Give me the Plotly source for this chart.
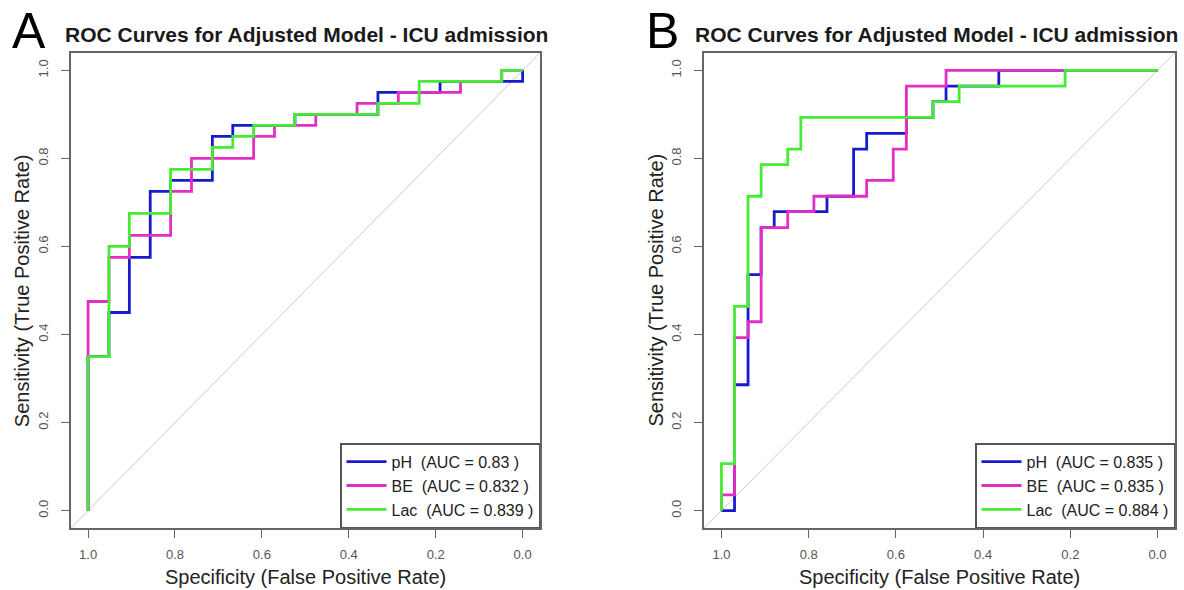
import plotly.graph_objects as go

W, H = 1184, 590
FONT = "Liberation Sans, Arial, sans-serif"

TITLE = "ROC Curves for Adjusted Model - ICU admission"
X_TITLE = "Specificity (False Positive Rate)"
Y_TITLE = "Sensitivity (True Positive Rate)"
PANEL_LABELS = ["A", "B"]

TICK_VALS = [0.0, 0.2, 0.4, 0.6, 0.8, 1.0]
TICK_TEXT = ["0.0", "0.2", "0.4", "0.6", "0.8", "1.0"]

MARKERS = ["pH", "BE", "Lac"]
COLORS = ["#1a1acd", "#e22ec4", "#44ec33"]

# ---- Panel A (specificity, sensitivity) step points ----
A_PH_SPEC = [1.0, 0.952, 0.905, 0.857, 0.810, 0.714, 0.667, 0.524, 0.333, 0.190, 0.0, 0.0]
A_PH_SENS = [0.0, 0.35, 0.45, 0.575, 0.725, 0.75, 0.85, 0.875, 0.9, 0.95, 0.975, 1.0]
A_BE_SPEC = [1.0, 0.952, 0.905, 0.810, 0.762, 0.619, 0.571, 0.476, 0.381, 0.286, 0.143, 0.048, 0.0]
A_BE_SENS = [0.0, 0.475, 0.575, 0.625, 0.725, 0.8, 0.85, 0.875, 0.9, 0.925, 0.95, 0.975, 1.0]
A_LAC_SPEC = [1.0, 0.952, 0.905, 0.810, 0.714, 0.667, 0.619, 0.524, 0.333, 0.238, 0.048, 0.0]
A_LAC_SENS = [0.0, 0.35, 0.6, 0.675, 0.775, 0.825, 0.85, 0.875, 0.9, 0.925, 0.975, 1.0]
A_AUC = ["0.83", "0.832", "0.839"]

# ---- Panel B ----
B_PH_SPEC = [1.0, 0.970, 0.939, 0.909, 0.879, 0.758, 0.697, 0.667, 0.576, 0.515, 0.485, 0.364, 0.0]
B_PH_SENS = [0.0, 0.0, 0.286, 0.536, 0.643, 0.679, 0.714, 0.821, 0.857, 0.893, 0.929, 0.964, 1.0]
B_BE_SPEC = [1.0, 0.970, 0.939, 0.909, 0.848, 0.788, 0.667, 0.606, 0.576, 0.485, 0.0]
B_BE_SENS = [0.0, 0.036, 0.393, 0.429, 0.643, 0.679, 0.714, 0.75, 0.821, 0.964, 1.0]
B_LAC_SPEC = [1.0, 0.970, 0.939, 0.909, 0.848, 0.818, 0.515, 0.455, 0.212, 0.0]
B_LAC_SENS = [0.0, 0.107, 0.464, 0.714, 0.786, 0.821, 0.893, 0.929, 0.964, 1.0]
B_AUC = ["0.835", "0.835", "0.884"]

PAD = 0.04  # R-style axis expansion

# layout in screen pixels
PLOT_TOP, PLOT_BOTTOM = 52.7, 528.3
PANELS_X = [(70.7, 540.0), (704.0, 1175.0)]
TITLE_CX = [306.0, 936.0]
LETTER_CX = [28.5, 662.0]


def px(x):
    return x / W


def py(y):
    return 1 - y / H


fig = go.Figure()

panels = [
    ([A_PH_SPEC, A_BE_SPEC, A_LAC_SPEC], [A_PH_SENS, A_BE_SENS, A_LAC_SENS], A_AUC),
    ([B_PH_SPEC, B_BE_SPEC, B_LAC_SPEC], [B_PH_SENS, B_BE_SENS, B_LAC_SENS], B_AUC),
]

for p, (specs, senss, aucs) in enumerate(panels):
    xa = "x" if p == 0 else "x2"
    ya = "y" if p == 0 else "y2"
    leg = "legend" if p == 0 else "legend2"
    for i in range(3):
        name = f"{MARKERS[i]}\u00a0 (AUC = {aucs[i]} )"
        fig.add_trace(go.Scatter(
            x=specs[i], y=senss[i], mode="lines", line_shape="vh",
            line=dict(color=COLORS[i], width=2.8),
            name=name, xaxis=xa, yaxis=ya, legend=leg, hoverinfo="skip",
        ))
    # chance diagonal across the whole plotting region
    fig.add_shape(type="line", xref=xa, yref=ya,
                  x0=1 + PAD, y0=-PAD, x1=-PAD, y1=1 + PAD,
                  line=dict(color="#cccccc", width=1), layer="below")

axis_common = dict(
    tickvals=TICK_VALS, ticktext=TICK_TEXT, ticks="outside", ticklen=8,
    tickwidth=1.3, tickcolor="#666666", showline=True, mirror=True,
    linecolor="#666666", linewidth=1.5, showgrid=False, zeroline=False,
    tickfont=dict(family=FONT, size=13, color="#555555"), automargin=False,
    fixedrange=True,
)

yd = [py(PLOT_BOTTOM), py(PLOT_TOP)]
fig.update_layout(
    xaxis=dict(domain=[px(PANELS_X[0][0]), px(PANELS_X[0][1])], range=[1 + PAD, -PAD],
               anchor="y", ticklabelstandoff=5, **axis_common),
    yaxis=dict(domain=yd, range=[-PAD, 1 + PAD], anchor="x", tickangle=-90,
               ticklabelstandoff=8, **axis_common),
    xaxis2=dict(domain=[px(PANELS_X[1][0]), px(PANELS_X[1][1])], range=[1 + PAD, -PAD],
                anchor="y2", ticklabelstandoff=5, **axis_common),
    yaxis2=dict(domain=yd, range=[-PAD, 1 + PAD], anchor="x2", tickangle=-90,
                ticklabelstandoff=8, **axis_common),
)

legend_common = dict(
    xanchor="right", yanchor="bottom", y=py(PLOT_BOTTOM),
    bordercolor="#555555", borderwidth=1.5, bgcolor="white",
    font=dict(family=FONT, size=16, color="#222222"), itemwidth=40,
    tracegroupgap=0, traceorder="normal",
)
fig.update_layout(
    legend=dict(x=px(PANELS_X[0][1]), **legend_common),
    legend2=dict(x=px(PANELS_X[1][1]), **legend_common),
)

annotations = []
for p in range(2):
    x0, x1 = PANELS_X[p]
    cx = (x0 + x1) / 2
    annotations.append(dict(text=TITLE, x=px(TITLE_CX[p]), y=py(35), xref="paper", yref="paper",
                            showarrow=False, xanchor="center", yanchor="middle",
                            font=dict(family=FONT, size=21, color="#1a1a1a", weight="bold")))
    annotations.append(dict(text=X_TITLE, x=px(cx), y=py(577), xref="paper", yref="paper",
                            showarrow=False, xanchor="center", yanchor="middle",
                            font=dict(family=FONT, size=20, color="#222222")))
    annotations.append(dict(text=Y_TITLE, x=px(x0 - 49), y=py((PLOT_TOP + PLOT_BOTTOM) / 2),
                            xref="paper", yref="paper", textangle=-90,
                            showarrow=False, xanchor="center", yanchor="middle",
                            font=dict(family=FONT, size=20, color="#222222")))
    annotations.append(dict(text=PANEL_LABELS[p], x=px(LETTER_CX[p]), y=py(31),
                            xref="paper", yref="paper", showarrow=False,
                            xanchor="center", yanchor="middle",
                            font=dict(family=FONT, size=50, color="#000000")))

fig.update_layout(
    annotations=annotations,
    width=W, height=H, margin=dict(l=0, r=0, t=0, b=0),
    paper_bgcolor="white", plot_bgcolor="white",
    font=dict(family=FONT),
)

fig.write_html("out.html", config={"displayModeBar": False},
               post_script="document.body.style.margin='0';")
